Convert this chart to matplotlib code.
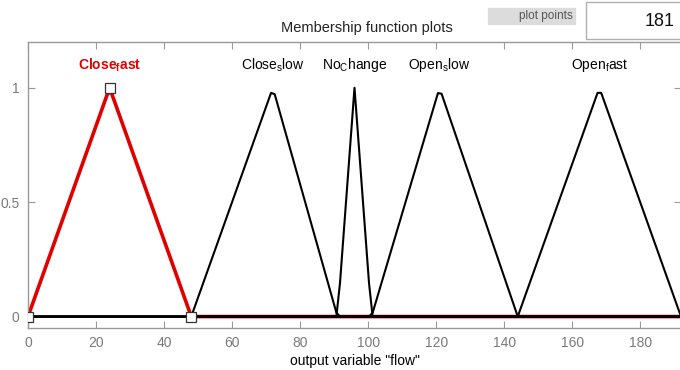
import numpy as np
import matplotlib
matplotlib.use("Agg")
import matplotlib.pyplot as plt

plt.rcParams["font.family"] = ["Liberation Sans", "DejaVu Sans"]
plt.rcParams["mathtext.default"] = "regular"

# output variable "flow": range and triangular MF parameters [a, b, c]
flow_range = [0, 192]
plot_points = 181
mf_names = ["Close$_f$ast", "Close$_s$low", "No$_C$hange", "Open$_s$low", "Open$_f$ast"]
mf_params = [
    [0, 24, 48],
    [48, 72, 91],
    [91, 96, 101],
    [101, 121, 144],
    [144, 168, 192],
]
selected = 0
x_ticks = list(range(0, 181, 20))
y_ticks = [0, 0.5, 1]
y_tick_labels = ["0", "0.5", "1"]

x = np.linspace(flow_range[0], flow_range[1], plot_points)

fig = plt.figure(figsize=(6.8, 3.7), dpi=100)
ax = fig.add_axes([28 / 680, 42 / 370, 653 / 680, 286 / 370])

gray = "#9a9a9a"
for i, p in enumerate(mf_params):
    y = np.interp(x, p, [0, 1, 0])
    if i == selected:
        continue
    ax.plot(x, y, color="black", lw=1.5, zorder=3)
    ax.text(p[1], 1.08, mf_names[i], ha="center", va="baseline",
            fontsize=10, color="black")

# selected MF: thicker red line under the others, with vertex handles
p = mf_params[selected]
y = np.interp(x, p, [0, 1, 0])
ax.plot(x, y, color="#e00000", lw=2.6, zorder=2)
ax.plot(p, [0, 1, 0], ls="none", marker="s", ms=6.5, mfc="white",
        mec="#333333", mew=0.9, zorder=4)
ax.text(p[1], 1.08, mf_names[selected], ha="center", va="baseline",
        fontsize=10, color="#e00000", fontweight="bold")

ax.set_xlim(flow_range)
ax.set_ylim(-0.05, 1.2)
ax.set_xticks(x_ticks)
ax.set_yticks(y_ticks)
ax.set_yticklabels(y_tick_labels)
ax.tick_params(direction="in", length=5, color=gray, labelcolor="#7a7a7a",
               labelsize=10, top=True, right=True, pad=6)
for s in ax.spines.values():
    s.set_color(gray)
    s.set_linewidth(1.0)
ax.set_xlabel('output variable "flow"', fontsize=10, labelpad=3)

# title and the plot points control above the axes
fig.text(367 / 680, 1 - 28 / 370, "Membership function plots", ha="center",
         va="center", fontsize=10.5, color="#222222")
fig.patches.append(plt.Rectangle((488 / 680, 1 - 24 / 370), 87 / 680, 16 / 370,
                                 transform=fig.transFigure, color="#dcdcdc",
                                 zorder=0))
fig.text(573 / 680, 1 - 16 / 370, "plot points", ha="right", va="center",
         fontsize=8.5, color="#555555")
fig.patches.append(plt.Rectangle((586 / 680, 1 - 39 / 370), 100 / 680, 37 / 370,
                                 transform=fig.transFigure, facecolor="white",
                                 edgecolor="#b0b0b0", lw=1.0, zorder=0))
fig.text(675 / 680, 1 - 22 / 370, str(plot_points), ha="right", va="center",
         fontsize=13, color="#111111")

fig.savefig("out.png", dpi=100)
